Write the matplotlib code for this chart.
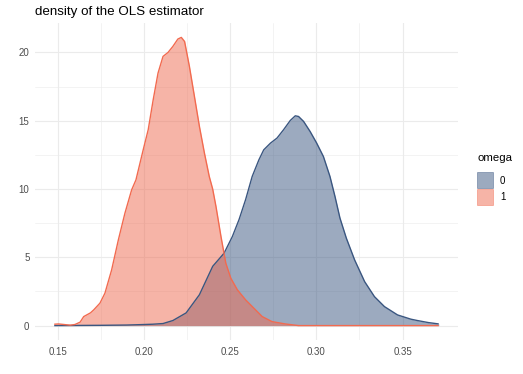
import numpy as np
import matplotlib.pyplot as plt
from matplotlib.patches import Rectangle

plt.rcParams['font.family'] = ['Liberation Sans', 'DejaVu Sans']

# density curves (x = estimate, y = density)
omega0_x = [0.148, 0.160, 0.175, 0.190, 0.198, 0.205, 0.2111, 0.2168, 0.2245, 0.2322,
            0.2399, 0.2465, 0.2513, 0.2552, 0.259, 0.2628, 0.2667, 0.2695, 0.2734,
            0.2772, 0.281, 0.2849, 0.2878, 0.2897, 0.2926, 0.2964, 0.3002, 0.3041,
            0.3079, 0.3108, 0.3137, 0.3174, 0.3222, 0.328, 0.3337, 0.3395, 0.3471,
            0.3548, 0.3586, 0.3650, 0.371]
omega0_y = [0.0, 0.01, 0.02, 0.04, 0.07, 0.10, 0.15, 0.37, 0.93, 2.26,
            4.34, 5.30, 6.52, 7.77, 9.23, 10.92, 12.14, 12.87, 13.36,
            13.73, 14.34, 15.02, 15.36, 15.31, 14.95, 14.21, 13.36, 12.38,
            10.92, 9.46, 7.87, 6.40, 4.81, 3.22, 2.12, 1.39, 0.78,
            0.47, 0.37, 0.22, 0.12]

omega1_x = [0.148, 0.1505, 0.1536, 0.1573, 0.1600, 0.163, 0.1651, 0.169, 0.1709, 0.1745,
            0.1774, 0.1813, 0.1852, 0.189, 0.1929, 0.1954, 0.1996, 0.2025, 0.2054,
            0.2082, 0.2111, 0.214, 0.2168, 0.2197, 0.2217, 0.2236, 0.2264, 0.2293,
            0.2322, 0.2351, 0.2379, 0.2399, 0.2418, 0.2447, 0.2475, 0.2504, 0.2542,
            0.259, 0.2638, 0.2686, 0.2743, 0.282, 0.2897, 0.31, 0.34, 0.371]
omega1_y = [0.10, 0.12, 0.08, 0.03, 0.08, 0.25, 0.66, 0.93, 1.15, 1.64,
            2.37, 4.08, 6.28, 8.23, 9.94, 10.67, 12.87, 14.34, 16.54,
            18.49, 19.71, 20.0, 20.44, 20.98, 21.1, 20.8, 18.97, 16.78,
            14.58, 12.63, 10.92, 9.99, 8.72, 6.52, 4.57, 3.47, 2.62,
            1.88, 1.27, 0.66, 0.29, 0.12, 0.0, 0.0, 0.0, 0.0]

groups = ['0', '1']
line_colors = ['#3A5680', '#F26A4F']
fill_colors = ['#3A5680', '#EE6A50']

W, H = 523, 374
fig = plt.figure(figsize=(W / 100, H / 100), dpi=100)
ax = fig.add_axes([35 / W, 1 - 340 / H, (458 - 35) / W, (340 - 23) / H])

for xs, ys, lc, fc in zip([omega0_x, omega1_x], [omega0_y, omega1_y], line_colors, fill_colors):
    ax.fill_between(xs, ys, 0, color=fc, alpha=0.5, linewidth=0)
    ax.plot(xs, ys, color=lc, linewidth=1.0, solid_capstyle='butt')

# ggplot-like 5% expansion
xr = 0.371 - 0.148
ax.set_xlim(0.148 - 0.05 * xr, 0.371 + 0.05 * xr)
ax.set_ylim(-0.05 * 21.1, 21.1 * 1.05)

ax.set_xticks([0.15, 0.20, 0.25, 0.30, 0.35])
ax.set_xticklabels(['0.15', '0.20', '0.25', '0.30', '0.35'])
ax.set_xticks([0.175, 0.225, 0.275, 0.325], minor=True)
ax.set_yticks([0, 5, 10, 15, 20])
ax.set_yticks([2.5, 7.5, 12.5, 17.5], minor=True)

ax.grid(which='major', color='#EBEBEB', linewidth=0.8)
ax.grid(which='minor', color='#EBEBEB', linewidth=0.4)
ax.set_axisbelow(True)
for s in ax.spines.values():
    s.set_visible(False)
ax.tick_params(which='both', length=0, labelsize=7, labelcolor='#4D4D4D')
ax.tick_params(axis='x', pad=5)
ax.tick_params(axis='y', pad=4)

fig.text(35 / W, 1 - 12 / H, 'density of the OLS estimator', fontsize=9.6,
         ha='left', va='center', color='black')

# legend
fig.text(477 / W, 1 - 158 / H, 'omega', fontsize=8.2, ha='left', va='center')
for i, (g, fc, lc) in enumerate(zip(groups, fill_colors, line_colors)):
    top = 172 + i * 17
    r = Rectangle((477 / W, 1 - (top + 16) / H), 16 / W, 16 / H,
                  transform=fig.transFigure, facecolor=fc, alpha=0.5,
                  edgecolor=lc, linewidth=0.6)
    fig.add_artist(r)
    fig.text(500 / W, 1 - (top + 8.5) / H, g, fontsize=7, ha='left', va='center')

fig.savefig('out.png', dpi=100)
